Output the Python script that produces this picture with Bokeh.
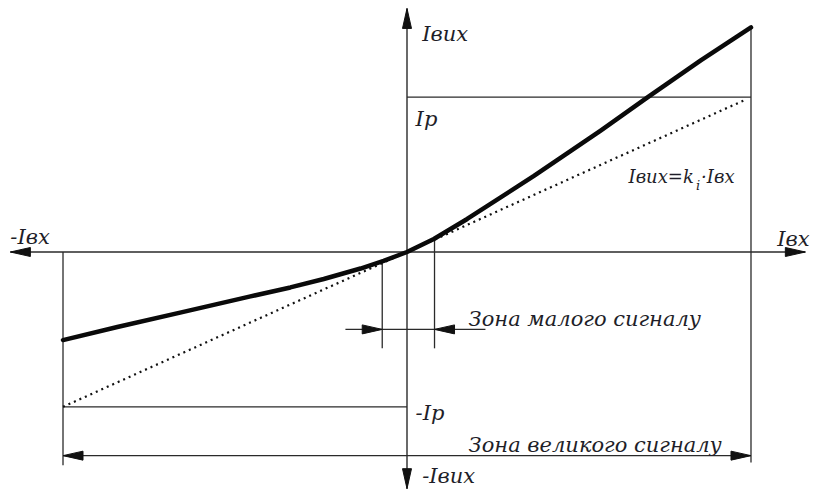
from bokeh.plotting import figure
from bokeh.models import Range1d
from bokeh.embed import file_html
from bokeh.resources import INLINE

# ---- data (arbitrary current units) ----
I_in_curve = [-10, -8.42, -6.50, -4.55, -3.39, -2.42, -1.35, -0.68, 0,
              0.78, 1.75, 3.69, 5.63, 6.98, 8.54, 10]
I_out_curve = [-2.56, -2.18, -1.74, -1.29, -1.03, -0.785, -0.48, -0.26, 0,
               0.378, 0.96, 2.21, 3.53, 4.49, 5.57, 6.53]
I_in_lin = [-10, 9.8]
I_out_lin = [-4.5, 4.41]
Ip = 4.5
I_in_max = 10
small_zone = [-0.72, 0.80]
small_zone_out = [-0.27, 0.38]

W, H = 813, 491
X0, X1 = -11.817, 11.817
Y0, Y1 = -6.962, 7.311
sx = W / (X1 - X0)
sy = H / (Y1 - Y0)

p = figure(width=W, height=H, output_backend="svg", toolbar_location=None,
           x_range=Range1d(X0, X1), y_range=Range1d(Y0, Y1),
           min_border=0, outline_line_color=None)
p.axis.visible = False
p.grid.visible = False
p.background_fill_color = "white"

LC = "#2a2a2a"
TC = "#1e1e28"
FONT = "DejaVu Serif"

# axes
ax_x = [-11.53, 11.58]
ax_y = [7.08, -6.88]
dim_y = -5.92
zone_y = -2.25
zone_x = [-1.79, 2.28]
p.segment(x0=[ax_x[0], 0], y0=[0, ax_y[0]], x1=[ax_x[1], 0], y1=[0, ax_y[1]],
          line_color=LC, line_width=1.4)

# Ip and -Ip lines, verticals, dimension lines
p.segment(x0=[0, -I_in_max, I_in_max, -I_in_max, -I_in_max, small_zone[0], small_zone[1], zone_x[0]],
          y0=[Ip, -Ip, I_out_curve[-1], 0, dim_y, small_zone_out[0], small_zone_out[1], zone_y],
          x1=[I_in_max, 0, I_in_max, -I_in_max, I_in_max, small_zone[0], small_zone[1], zone_x[1]],
          y1=[Ip, -Ip, -6.12, -6.2, dim_y, -2.8, -2.8, zone_y],
          line_color=LC, line_width=1.3)

# linear (dotted) characteristic
p.line(I_in_lin, I_out_lin, line_color="#111111", line_width=2.2, line_dash="2 4")

# real characteristic (thick)
p.line(I_in_curve, I_out_curve, line_color="#0a0a0a", line_width=4.5,
       line_join="round", line_cap="round")

# arrowheads: (tip_x, tip_y, dir_x, dir_y)
heads = [
    (ax_x[0], 0, -1, 0), (ax_x[1], 0, 1, 0),
    (0, ax_y[0], 0, 1), (0, ax_y[1], 0, -1),
    (-I_in_max, dim_y, -1, 0), (I_in_max, dim_y, 1, 0),
    (small_zone[0], zone_y, 1, 0), (small_zone[1], zone_y, -1, 0),
]
L_px, HW_px = 20, 4.5
xs, ys = [], []
for tx, ty, dx, dy in heads:
    bx = tx - dx * L_px / sx
    by = ty - dy * L_px / sy
    px_, py_ = -dy, dx
    xs.append([tx, bx + px_ * HW_px / sx, bx - px_ * HW_px / sx])
    ys.append([ty, by + py_ * HW_px / sy, by - py_ * HW_px / sy])
p.patches(xs, ys, fill_color="#111111", line_color="#111111", line_width=1)

# labels
lab_x = [0.44, 0.25, -11.53, 10.76, 1.79, 0.25, 1.79, 0.44]
lab_y = [6.35, 3.88, 0.45, 0.38, -1.94, -4.69, -5.60, -6.52]
lab_t = ["Iвих", "Ip", "-Iвх", "Iвх", "Зона малого сигналу", "-Ip", "Зона великого сигналу", "-Iвих"]
p.text(lab_x, lab_y, text=lab_t, text_font={"value": FONT}, text_font_style="italic",
       text_font_size="21px", text_color=TC, text_baseline="alphabetic", text_align="left")

# formula label Iвих = k_i · Iвх
p.text([6.44], [2.20], text=["Iвих=k"], text_font={"value": FONT}, text_font_style="italic",
       text_font_size="18px", text_color=TC, text_baseline="alphabetic")
p.text([8.40], [1.93], text=["i"], text_font={"value": FONT}, text_font_style="italic",
       text_font_size="13px", text_color=TC, text_baseline="alphabetic")
p.text([8.55], [2.20], text=["·Iвх"], text_font={"value": FONT}, text_font_style="italic",
       text_font_size="18px", text_color=TC, text_baseline="alphabetic")

open("out.html", "w").write(file_html(p, INLINE))
